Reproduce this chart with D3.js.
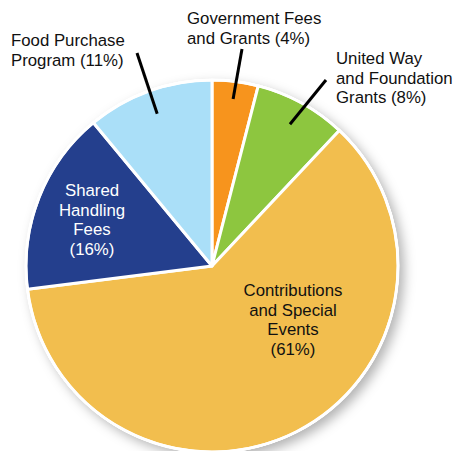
<!DOCTYPE html>
<html><head><meta charset="utf-8">
<script src="https://cdn.jsdelivr.net/npm/d3@7"></script>
<style>html,body{margin:0;padding:0;background:#fff;}svg{display:block;}</style>
</head><body>
<script>
const categories = ["Government Fees and Grants","United Way and Foundation Grants","Contributions and Special Events","Shared Handling Fees","Food Purchase Program"];
const values = [4, 8, 61, 16, 11];
const colors = ["#F7941D","#8DC63F","#F2BE4E","#243F8D","#AADFF8"];

const W = 458, H = 451, cx = 212, cy = 266, R = 186;
const svg = d3.select("body").append("svg").attr("width", W).attr("height", H);
const defs = svg.append("defs");
const f = defs.append("filter").attr("id","sh").attr("x","-20%").attr("y","-20%").attr("width","140%").attr("height","140%");
f.append("feDropShadow").attr("dx",5).attr("dy",5).attr("stdDeviation",6).attr("flood-color","#000").attr("flood-opacity",0.3);

const g = svg.append("g").attr("transform", `translate(${cx},${cy})`);
const pie = d3.pie().sort(null).value(d => d)(values);
const arc = d3.arc().innerRadius(0).outerRadius(R);
g.append("circle").attr("r", R+1).attr("fill","#fff").attr("filter","url(#sh)");
g.selectAll("path.s").data(pie).join("path").attr("class","s")
  .attr("d", arc).attr("fill", (d,i) => colors[i])
  .attr("stroke","#fff").attr("stroke-width",3).attr("stroke-linejoin","round");
g.append("circle").attr("r", R).attr("fill","none").attr("stroke","#fff").attr("stroke-width",2.5);

const font = "Liberation Sans, Arial, sans-serif";
function lines(x, y, arr, anchor, fill) {
  const t = svg.append("text").attr("font-family", font).attr("font-size", 16.8)
    .attr("fill", fill).attr("text-anchor", anchor);
  arr.forEach((s, i) => t.append("tspan").attr("x", x).attr("y", y + i * 19.7).text(s));
}
const labels = [
  {lines:["Government Fees","and Grants (4%)"], x:187, y:24, anchor:"start", fill:"#111"},
  {lines:["United Way","and Foundation","Grants (8%)"], x:336, y:64, anchor:"start", fill:"#111"},
  {lines:["Contributions","and Special","Events","(61%)"], x:293, y:296, anchor:"middle", fill:"#111"},
  {lines:["Shared","Handling","Fees","(16%)"], x:92, y:196, anchor:"middle", fill:"#fff"},
  {lines:["Food Purchase","Program (11%)"], x:11, y:46, anchor:"start", fill:"#111"}
];
labels.forEach(l => lines(l.x, l.y, l.lines, l.anchor, l.fill));

const leaders = [
  {i:0, r0:0.905, x1:242, y1:49},
  {i:1, r0:0.87, x1:326, y1:80},
  {i:4, r0:0.87, x1:137, y1:53}
];
leaders.forEach(L => {
  const d = pie[L.i];
  const a = (d.startAngle + d.endAngle) / 2;
  let px = cx + Math.sin(a) * R * L.r0, py = cy - Math.cos(a) * R * L.r0;
  svg.append("line").attr("x1", L.x1).attr("y1", L.y1).attr("x2", px).attr("y2", py)
    .attr("stroke","#000").attr("stroke-width",3);
});
</script>
</body></html>
